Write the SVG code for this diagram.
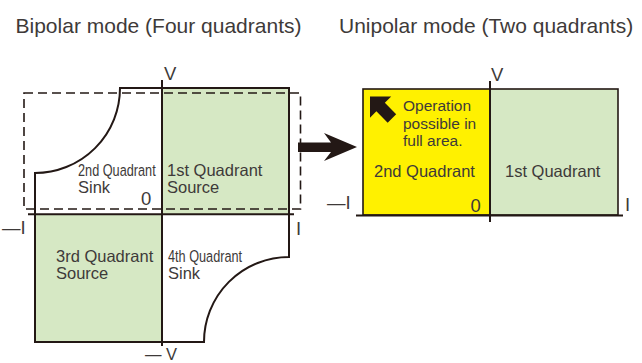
<svg xmlns="http://www.w3.org/2000/svg" width="642" height="363" viewBox="0 0 642 363">
<style>
text{font-family:"Liberation Sans",Arial,sans-serif;fill:#3e3a39}
.t{font-size:21px}
.q{font-size:16.5px}
.o{font-size:15.5px}
.ax{font-size:18.5px}
.line{stroke:#231815;stroke-width:2;fill:none}
.green{fill:#d6e8c4}
.yellow{fill:#fff100}
</style>
<rect width="642" height="363" fill="#ffffff"/>
<g id="titles">
<text class="t" x="15.5" y="33">Bipolar mode (Four quadrants)</text>
<text class="t" x="339" y="33">Unipolar mode (Two quadrants)</text>
</g>
<g id="bipolar">
<rect class="green" x="162" y="88" width="127" height="126"/>
<rect class="green" x="35" y="214" width="127" height="128"/>
<path class="line" d="M120,88 L289,88 L289,257 A85,85 0 0 0 204,342 L35,342 L35,173 A85,85 0 0 0 120,88 Z"/>
<rect x="24" y="93" width="276.5" height="116" fill="none" stroke="#231815" stroke-width="1.6" stroke-dasharray="9 5"/>
<line class="line" x1="162" y1="80" x2="162" y2="346"/>
<line class="line" x1="28" y1="214.3" x2="294" y2="214.3"/>
<text class="ax" x="164" y="80">V</text>
<text x="145" y="359.5" font-size="16.5">— V</text>
<text class="ax" x="2" y="233.5">—I</text>
<text class="ax" x="296" y="235">I</text>
<text class="ax" x="141" y="204.5">0</text>
<text class="q" transform="translate(78,176) scale(0.77,1)">2nd Quadrant</text>
<text class="q" x="78" y="193">Sink</text>
<text class="q" x="167" y="176">1st Quadrant</text>
<text class="q" x="167" y="193">Source</text>
<text class="q" x="56" y="262">3rd Quadrant</text>
<text class="q" x="56" y="279">Source</text>
<text class="q" transform="translate(168,262) scale(0.77,1)">4th Quadrant</text>
<text class="q" x="168" y="279">Sink</text>
</g>
<g id="unipolar">
<rect class="yellow" x="363" y="89" width="126" height="126"/>
<rect class="green" x="489" y="89" width="129" height="126"/>
<rect x="363" y="89" width="255" height="126" fill="none" stroke="#231815" stroke-width="1.6"/>
<line class="line" x1="490" y1="81" x2="490" y2="222"/>
<line class="line" x1="356" y1="215.5" x2="623" y2="215.5"/>
<path fill="#231815" transform="translate(370,96.5) rotate(45)" d="M0,0 L15,-15 L15,-6 L31,-6 L31,6 L15,6 L15,15 Z"/>
<text class="o" x="403" y="111">Operation</text>
<text class="o" x="403" y="128.5">possible in</text>
<text class="o" x="403" y="146">full area.</text>
<text class="q" x="374" y="177">2nd Quadrant</text>
<text class="q" x="505" y="177">1st Quadrant</text>
<text class="ax" x="470.5" y="211.5">0</text>
<text class="ax" x="491" y="81">V</text>
<text class="ax" x="327" y="208.5">—I</text>
<text class="ax" x="625" y="210.5">I</text>
</g>
<g id="connectors">
<path fill="#231815" d="M298,142.5 L331,142.5 L324,133 L357,147 L324,161 L331,152 L298,152 Z"/>
</g>
</svg>
